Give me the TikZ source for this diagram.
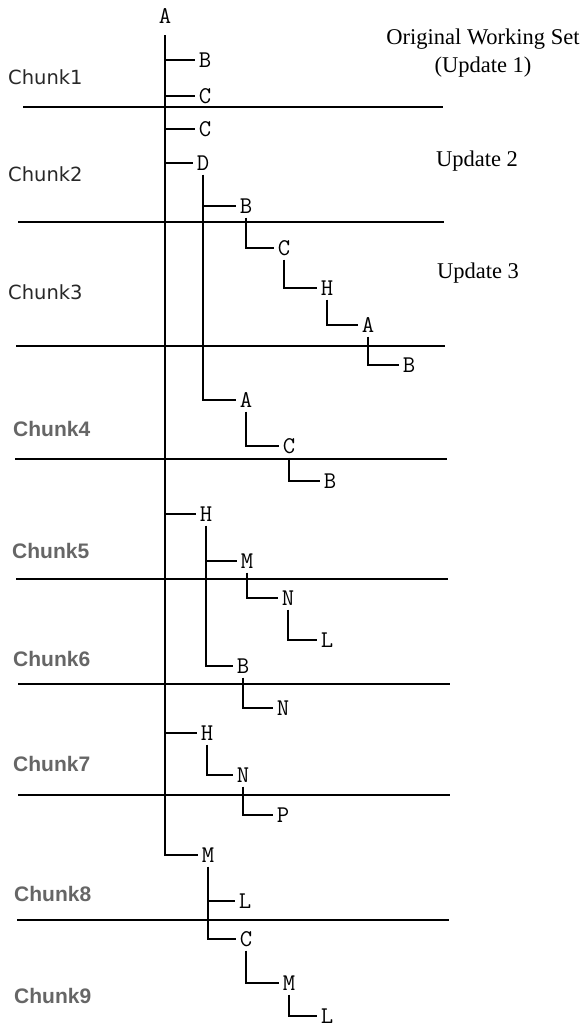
\documentclass[tikz,border=0pt]{standalone}
\usepackage{fontspec}
\newfontfamily\chunkfont{DejaVu Sans}
\newfontfamily\chunkbold{Liberation Sans}
\newfontfamily\updfont{Liberation Serif}
\newfontfamily\treefont{Latin Modern Mono}
\definecolor{chunkdark}{RGB}{40,40,40}
\definecolor{chunkgray}{RGB}{102,102,102}
\begin{document}
\begin{tikzpicture}[x=1pt,y=-1pt,
  tn/.style={font=\treefont\fontsize{24}{24}\selectfont, minimum width=20pt, minimum height=23pt, inner sep=0pt},
  ln/.style={line width=1.3pt, black},
  sep/.style={line width=1.5pt, black},
  chunka/.style={anchor=west, inner sep=0pt, text=chunkdark, font=\chunkfont\fontsize{19.5}{20}\selectfont},
  chunkb/.style={anchor=west, inner sep=0pt, text=chunkgray, font=\chunkbold\bfseries\fontsize{21}{22}\selectfont},
  upd/.style={inner sep=0pt, align=center, font=\updfont\fontsize{22.5}{28}\selectfont}]
\useasboundingbox (0,0) rectangle (584,1030);
% separators
\draw[sep] (23,107) -- (443,107);
\draw[sep] (18,222) -- (444,222);
\draw[sep] (16,346) -- (445,346);
\draw[sep] (15,459) -- (447,459);
\draw[sep] (16,579) -- (448,579);
\draw[sep] (18,684) -- (450,684);
\draw[sep] (18,795) -- (450,795);
\draw[sep] (17,920) -- (449,920);
% chunk labels
\node[chunka] (k1) at (8,77) {Chunk1};
\node[chunka] (k2) at (8,174) {Chunk2};
\node[chunka] (k3) at (8,292) {Chunk3};
\node[chunkb] (k4) at (13,429) {Chunk4};
\node[chunkb] (k5) at (12,551) {Chunk5};
\node[chunkb] (k6) at (13,659) {Chunk6};
\node[chunkb] (k7) at (13,764) {Chunk7};
\node[chunkb] (k8) at (14,894) {Chunk8};
\node[chunkb] (k9) at (14,996) {Chunk9};
% update labels
\node[upd] (u1) at (483,53) {Original Working Set\\(Update 1)};
\node[upd] (u2) at (477,161) {Update 2};
\node[upd] (u3) at (478,273) {Update 3};
% tree nodes
\node[tn, minimum height=38pt] (A0) at (165,16) {A};
\node[tn] (B1) at (205,60) {B};
\node[tn] (C1) at (205,96) {C};
\node[tn] (C2) at (205,129) {C};
\node[tn] (D2) at (203,163) {D};
\node[tn] (B3) at (246,206) {B};
\node[tn] (C3) at (284,248) {C};
\node[tn] (H3) at (327,288) {H};
\node[tn] (A3) at (368,325) {A};
\node[tn] (B4) at (409,365) {B};
\node[tn] (A4) at (246,400) {A};
\node[tn] (C4) at (289,446) {C};
\node[tn] (B5) at (330,481) {B};
\node[tn] (H5) at (206,514) {H};
\node[tn] (M5) at (247,561) {M};
\node[tn] (N6) at (288,598) {N};
\node[tn] (L6) at (327,640) {L};
\node[tn] (B6) at (243,666) {B};
\node[tn] (N7) at (283,708) {N};
\node[tn] (H7) at (207,733) {H};
\node[tn] (N8) at (243,775) {N};
\node[tn] (P8) at (283,815) {P};
\node[tn] (M8) at (208,855) {M};
\node[tn] (L8) at (245,901) {L};
\node[tn] (C9) at (246,939) {C};
\node[tn] (M9) at (289,983) {M};
\node[tn, minimum height=14pt] (L9) at (327,1016) {L};
% trunk
\draw[ln] (A0.south) |- (M8.west);
\foreach \c in {B1,C1,C2,D2,H5,H7}
  \draw[ln] (A0.south |- \c.west) -- (\c.west);
% D subtree
\draw[ln] (D2.south) |- (A4.west);
\draw[ln] (D2.south |- B3.west) -- (B3.west);
\draw[ln] (B3.south) |- (C3.west);
\draw[ln] (C3.south) |- (H3.west);
\draw[ln] (H3.south) |- (A3.west);
\draw[ln] (A3.south) |- (B4.west);
\draw[ln] (A4.south) |- (C4.west);
\draw[ln] (C4.south) |- (B5.west);
% H5 subtree
\draw[ln] (H5.south) |- (B6.west);
\draw[ln] (H5.south |- M5.west) -- (M5.west);
\draw[ln] (M5.south) |- (N6.west);
\draw[ln] (N6.south) |- (L6.west);
\draw[ln] (B6.south) |- (N7.west);
% H7 subtree
\draw[ln] (H7.south) |- (N8.west);
\draw[ln] (N8.south) |- (P8.west);
% M8 subtree
\draw[ln] (M8.south) |- (C9.west);
\draw[ln] (M8.south |- L8.west) -- (L8.west);
\draw[ln] (C9.south) |- (M9.west);
\draw[ln] (M9.south) |- (L9.west);
\end{tikzpicture}
\end{document}
